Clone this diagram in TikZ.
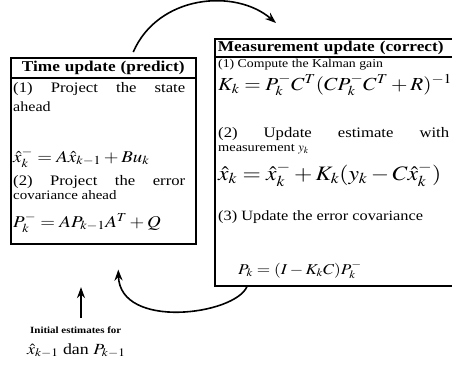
\documentclass[tikz,border=0pt]{standalone}
\usepackage{mathptmx}
\usepackage{fontspec}
\setmainfont{Liberation Serif}[FakeStretch=1.15]
\usetikzlibrary{arrows.meta,positioning}
\newcommand{\wideeq}[1]{\scalebox{1.15}[1]{$#1$}}

\begin{document}
\begin{tikzpicture}[
  x=1pt, y=-1pt,
  frame/.style  = {draw, line width=1.5pt, inner sep=0pt},
  ttlbox/.style = {draw, line width=1.5pt, inner ysep=0pt, inner xsep=3pt,
                   font=\fontsize{15}{17}\selectfont\bfseries},
  txt/.style    = {font=\fontsize{#1}{#1}\selectfont, anchor=base west,
                   inner sep=0pt},
  txt/.default  = 14,
  eqn/.style    = {txt=#1},
  arr/.style    = {-{Stealth[length=11pt,width=8pt]}, line width=1.6pt},
]
\useasboundingbox (0,0) rectangle (452,367);
\clip (0,0) rectangle (452,367);

%-- Time update box (left) --------------------------------------------------
\node[frame, anchor=north west, minimum width=185pt, minimum height=186pt]
    (tbox) at (10,57) {};
\node[ttlbox, anchor=north west, text width=179pt, align=center,
      minimum height=20pt] (tttl) at (tbox.north west) {Time update (predict)};

\node[txt=14.5] (t1) at (13,92)  {\makebox[172pt][s]{(1) Project the state}};
\node[txt=14]   (t2) at (13,111) {ahead};
\node[eqn=16.5] (t3) at (13,162) {\wideeq{\hat{x}_k^- = A\hat{x}_{k-1} + Bu_k}};
\node[txt=14.5] (t4) at (13,185) {\makebox[172pt][s]{(2) Project the error}};
\node[txt=13]   (t5) at (13,199) {covariance ahead};
\node[eqn=16.5] (t6) at (13,227) {\wideeq{P_k^- = AP_{k-1}A^T + Q}};

%-- Measurement update box (right) ------------------------------------------
\node[frame, anchor=north west, minimum width=245pt, minimum height=247pt]
    (mbox) at (214,38) {};
\node[ttlbox, anchor=north west, text width=239pt, align=left,
      minimum height=18pt] (mttl) at (mbox.north west)
    {Measurement update (correct)};

\node[txt=12]   (m1) at (218,67)  {(1) Compute the Kalman gain};
\node[eqn=18.4] (m2) at (218,90)  {\wideeq{K_k = P_k^- C^T (C P_k^- C^T + R)^{-1}}};
\node[txt=14.5] (m3) at (218,137) {\makebox[231pt][s]{(2) Update estimate with}};
\node[txt=12.5] (m4) at (218,151) {measurement $y_k$};
\node[eqn=20.5] (m5) at (218,180) {\wideeq{\hat{x}_k = \hat{x}_k^- + K_k(y_k - C\hat{x}_k^-)}};
\node[txt=14.2] (m6) at (218,220) {(3) Update the error covariance};
\node[eqn=15]   (m7) at (238,274) {\wideeq{P_k = (I - K_kC)P_k^-}};

%-- Initial estimates --------------------------------------------------------
\node[txt=9, font=\fontsize{9.5}{10}\selectfont\bfseries] (i1) at (30,333)
    {Initial estimates for};
\node[eqn=15.5] (i2) at (27,354) {\wideeq{\hat{x}_{k-1}} dan \wideeq{P_{k-1}}};

%-- Arrows -------------------------------------------------------------------
\coordinate (tout) at ([xshift=30pt,yshift=5pt]tbox.north);
\coordinate (min)  at ([xshift=62pt,yshift=15pt]mbox.north west);
\draw[arr] (tout) .. controls (158,-5) and (235,-12) .. (min);

\coordinate (mout) at ([xshift=33pt]mbox.south west);
\coordinate (tin)  at ([xshift=15pt,yshift=-25pt]tbox.south);
\draw[arr] (mout) .. controls (235,315) and (120,330) .. (tin);

\coordinate (iin) at ([xshift=51pt,yshift=8pt]i1.north west);
\draw[arr] (iin) -- ++(0,-31);

\end{tikzpicture}
\end{document}
